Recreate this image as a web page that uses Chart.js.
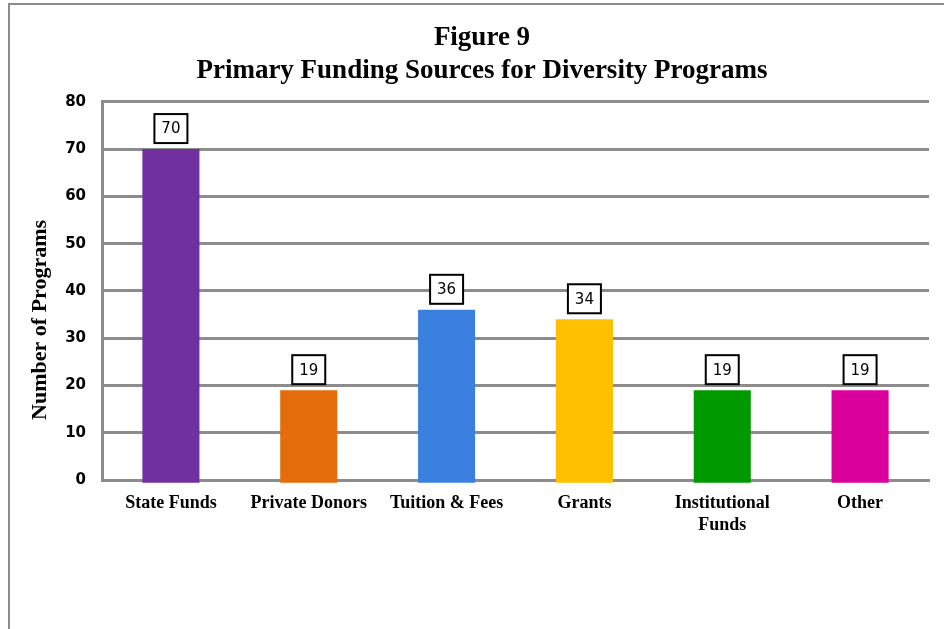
<!DOCTYPE html>
<html>
<head>
<meta charset="utf-8">
<script src="https://cdn.jsdelivr.net/npm/chart.js@4/dist/chart.umd.min.js"></script>
<style>
  html, body { margin: 0; padding: 0; background: #ffffff; }
  #wrap { position: relative; width: 944px; height: 629px; }
</style>
</head>
<body>
<div id="wrap"><canvas id="c" width="944" height="629"></canvas></div>
<script>
const categories = ['State Funds', 'Private Donors', 'Tuition & Fees', 'Grants', ['Institutional', 'Funds'], 'Other'];
const programCounts = [70, 19, 36, 34, 19, 19];
const barColors = ['#7030A0', '#E46C0A', '#3B80E0', '#FFC000', '#009A00', '#D9009B'];
const titleLines = ['Figure 9', 'Primary Funding Sources for Diversity Programs'];
const yAxisTitle = 'Number of Programs';
const yMin = 0, yMax = 80, yStep = 10;

const GRID = '#8c8c8c';

const framePlugin = {
  id: 'frame',
  beforeDraw(chart) {
    const ctx = chart.ctx;
    ctx.save();
    ctx.fillStyle = '#ffffff';
    ctx.fillRect(0, 0, chart.width, chart.height);
    ctx.fillStyle = GRID;
    ctx.fillRect(8, 3, chart.width - 8, 2);
    ctx.fillRect(8, 3, 2, chart.height - 3);
    ctx.restore();
  }
};

const yTitlePlugin = {
  id: 'yTitle',
  afterDraw(chart) {
    const ctx = chart.ctx;
    const a = chart.chartArea;
    ctx.save();
    ctx.translate(46, (a.top + a.bottom) / 2 + 29);
    ctx.rotate(-Math.PI / 2);
    ctx.font = 'bold 22px "Liberation Serif", "Times New Roman", serif';
    ctx.fillStyle = '#000000';
    ctx.textAlign = 'center';
    ctx.textBaseline = 'alphabetic';
    ctx.fillText(yAxisTitle, 0, 0);
    ctx.restore();
  }
};

const boxLabelPlugin = {
  id: 'boxLabels',
  afterDatasetsDraw(chart) {
    const ctx = chart.ctx;
    const meta = chart.getDatasetMeta(0);
    const data = chart.data.datasets[0].data;
    ctx.save();
    ctx.font = '15px "DejaVu Sans", sans-serif';
    ctx.textAlign = 'center';
    ctx.textBaseline = 'middle';
    meta.data.forEach((bar, i) => {
      const w = 33, h = 29;
      const x = bar.x - w / 2;
      const y = bar.y - 6 - h;
      ctx.fillStyle = '#ffffff';
      ctx.fillRect(x, y, w, h);
      ctx.lineWidth = 2;
      ctx.strokeStyle = '#000000';
      ctx.strokeRect(x, y, w, h);
      ctx.fillStyle = '#000000';
      ctx.fillText(String(data[i]), bar.x, y + h / 2 + 1);
    });
    ctx.restore();
  }
};

new Chart(document.getElementById('c'), {
  type: 'bar',
  data: {
    labels: categories,
    datasets: [{
      data: programCounts,
      backgroundColor: barColors,
      borderWidth: 0,
      categoryPercentage: 1.0,
      barPercentage: 0.414,
      base: -0.6,
      clip: false
    }]
  },
  options: {
    responsive: false,
    devicePixelRatio: 1,
    animation: false,
    layout: { padding: { left: 35, right: 15, top: 0, bottom: 79 } },
    plugins: {
      legend: { display: false },
      tooltip: { enabled: false },
      title: {
        display: true,
        text: titleLines,
        color: '#000000',
        font: { family: '"Liberation Serif", "Times New Roman", serif', size: 27, weight: 'bold', lineHeight: 1.2 },
        padding: { top: 22, bottom: 15 }
      }
    },
    scales: {
      x: {
        grid: { display: false, drawTicks: false },
        border: { display: true, color: GRID, width: 3 },
        ticks: {
          color: '#000000',
          padding: 12,
          maxRotation: 0,
          autoSkip: false,
          font: { family: '"Liberation Serif", "Times New Roman", serif', size: 18, weight: 'bold', lineHeight: 1.25 }
        },
        afterFit(s) { s.height = 70; }
      },
      y: {
        min: yMin,
        max: yMax,
        grid: { color: GRID, lineWidth: 3, drawTicks: false },
        border: { display: true, color: GRID, width: 3 },
        ticks: {
          stepSize: yStep,
          color: '#000000',
          padding: 16,
          font: { family: '"DejaVu Sans", sans-serif', size: 15, weight: 'bold' }
        },
        afterFit(s) { s.width = 67; }
      }
    }
  },
  plugins: [framePlugin, yTitlePlugin, boxLabelPlugin]
});
</script>
</body>
</html>
